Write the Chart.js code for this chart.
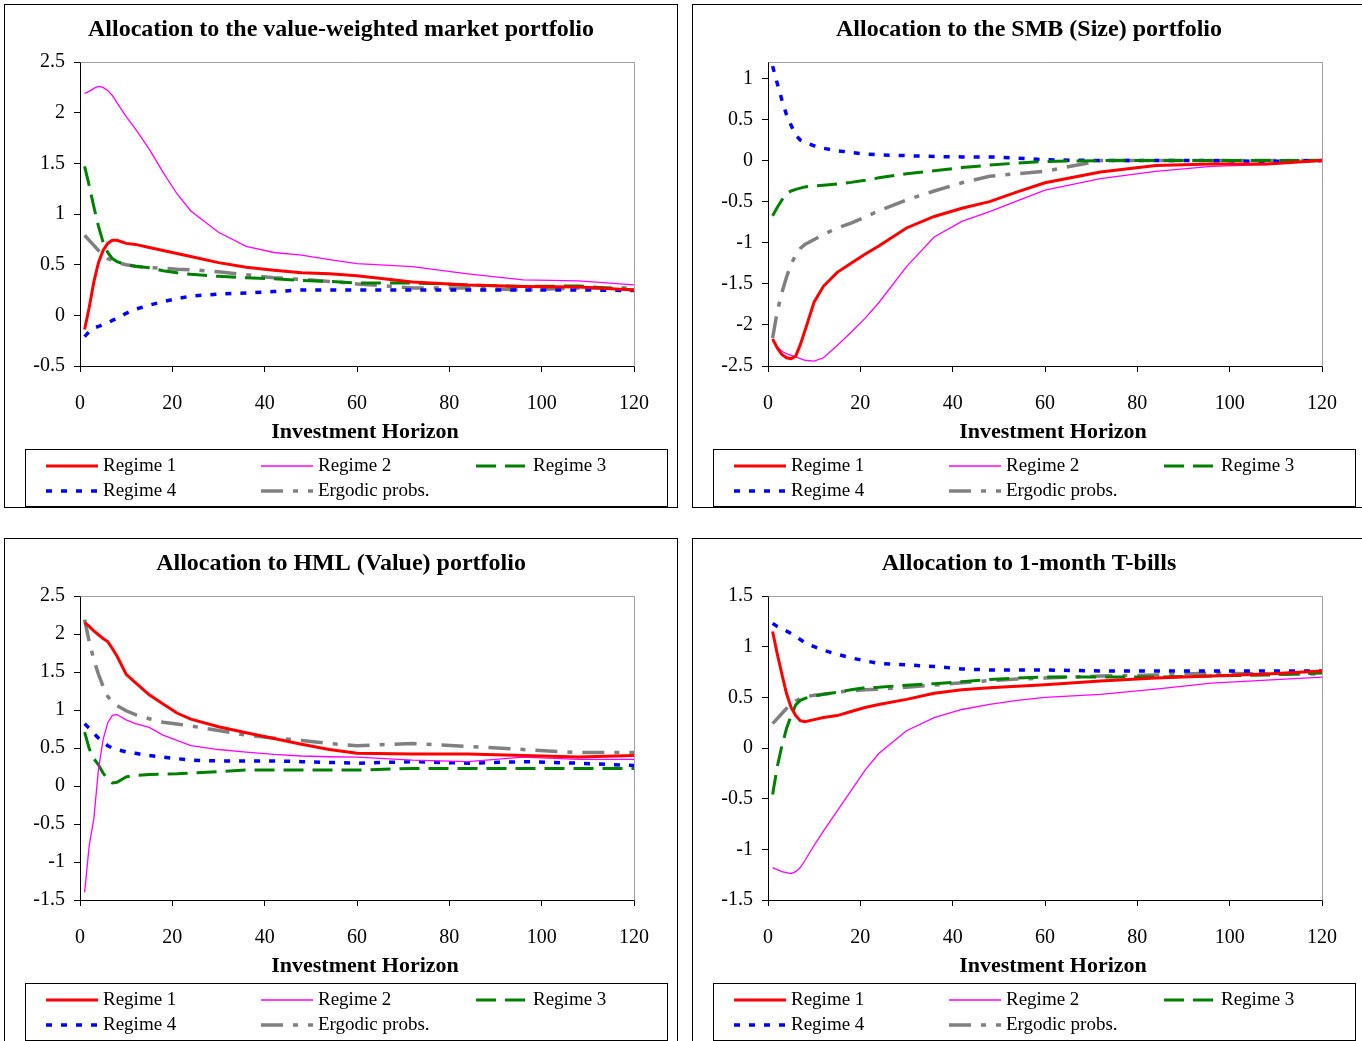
<!DOCTYPE html>
<html>
<head>
<meta charset="utf-8">
<title>Optimal allocations by regime</title>
<script src="https://cdn.jsdelivr.net/npm/chart.js@4.4.1/dist/chart.umd.min.js"></script>
<style>
    html, body { margin: 0; padding: 0; background: #fff; overflow: hidden; }
    .panel { position: absolute; width: 674px; height: 504px; box-sizing: border-box; border: 1px solid #000; background: #fff; }
    .panel canvas { display: block; }
</style>
</head>
<body>
<div class="panel" style="left:4px; top:4px;"><canvas id="mktChart" width="672" height="502"></canvas></div>
<div class="panel" style="left:692px; top:4px;"><canvas id="smbChart" width="672" height="502"></canvas></div>
<div class="panel" style="left:4px; top:538px;"><canvas id="hmlChart" width="672" height="502"></canvas></div>
<div class="panel" style="left:692px; top:538px;"><canvas id="tbillChart" width="672" height="502"></canvas></div>

<script>
// Investment horizons (months)
const horizons = [1, 2, 3, 4, 5, 6, 7, 8, 10, 12, 15, 18, 21, 24, 30, 36, 42, 48, 54, 60, 72, 84, 96, 108, 120];
const xTicks = [0, 20, 40, 60, 80, 100, 120];
const seriesNames = ['Regime 1', 'Regime 2', 'Regime 3', 'Regime 4', 'Ergodic probs.'];

// Value-weighted market portfolio
const mktTicks = [-0.5, 0, 0.5, 1, 1.5, 2, 2.5];
const mktRegime1 = [-0.14, 0.08, 0.33, 0.52, 0.64, 0.71, 0.74, 0.74, 0.71, 0.70, 0.67, 0.64, 0.61, 0.58, 0.52, 0.475, 0.445, 0.42, 0.41, 0.39, 0.33, 0.30, 0.285, 0.28, 0.25];
const mktRegime2 = [2.19, 2.21, 2.24, 2.26, 2.25, 2.22, 2.17, 2.10, 1.96, 1.84, 1.64, 1.41, 1.20, 1.03, 0.82, 0.68, 0.62, 0.595, 0.55, 0.51, 0.48, 0.41, 0.35, 0.34, 0.30];
const mktRegime3 = [1.47, 1.28, 1.07, 0.88, 0.72, 0.62, 0.56, 0.53, 0.50, 0.485, 0.47, 0.44, 0.42, 0.405, 0.385, 0.37, 0.36, 0.345, 0.335, 0.32, 0.32, 0.30, 0.285, 0.29, 0.25];
const mktRegime4 = [-0.21, -0.16, -0.125, -0.11, -0.09, -0.075, -0.05, -0.03, 0.02, 0.06, 0.10, 0.135, 0.165, 0.19, 0.21, 0.22, 0.235, 0.25, 0.25, 0.25, 0.25, 0.25, 0.25, 0.25, 0.245];
const mktErgodic = [0.79, 0.74, 0.69, 0.64, 0.60, 0.56, 0.54, 0.52, 0.50, 0.485, 0.47, 0.465, 0.455, 0.45, 0.43, 0.40, 0.37, 0.355, 0.335, 0.31, 0.27, 0.27, 0.25, 0.27, 0.27];

// SMB (size) portfolio
const smbTicks = [-2.5, -2, -1.5, -1, -0.5, 0, 0.5, 1];
const smbRegime1 = [-2.17, -2.28, -2.36, -2.40, -2.41, -2.38, -2.24, -2.07, -1.72, -1.53, -1.36, -1.25, -1.14, -1.04, -0.82, -0.68, -0.58, -0.50, -0.38, -0.27, -0.14, -0.06, -0.04, -0.04, 0];
const smbRegime2 = [-2.19, -2.27, -2.32, -2.35, -2.37, -2.39, -2.41, -2.43, -2.44, -2.40, -2.25, -2.09, -1.92, -1.73, -1.29, -0.93, -0.74, -0.62, -0.49, -0.36, -0.22, -0.13, -0.07, -0.05, 0];
const smbRegime3 = [-0.67, -0.57, -0.48, -0.40, -0.37, -0.35, -0.335, -0.32, -0.31, -0.30, -0.285, -0.265, -0.24, -0.21, -0.16, -0.125, -0.085, -0.055, -0.03, -0.01, 0, 0, 0, 0, 0];
const smbRegime4 = [1.15, 0.94, 0.74, 0.56, 0.43, 0.31, 0.25, 0.22, 0.18, 0.15, 0.12, 0.10, 0.08, 0.07, 0.06, 0.05, 0.045, 0.045, 0.03, 0.01, 0, 0, 0, -0.01, 0];
const smbErgodic = [-2.16, -1.84, -1.61, -1.42, -1.26, -1.15, -1.07, -1.02, -0.96, -0.90, -0.82, -0.76, -0.69, -0.61, -0.48, -0.37, -0.27, -0.19, -0.16, -0.13, 0, 0, 0, 0, 0];

// HML (value) portfolio
const hmlTicks = [-1.5, -1, -0.5, 0, 0.5, 1, 1.5, 2, 2.5];
const hmlRegime1 = [2.15, 2.10, 2.04, 1.99, 1.94, 1.90, 1.81, 1.71, 1.47, 1.36, 1.20, 1.08, 0.96, 0.88, 0.78, 0.70, 0.625, 0.55, 0.48, 0.43, 0.42, 0.42, 0.40, 0.38, 0.40];
const hmlRegime2 = [-1.40, -0.78, -0.43, 0.22, 0.61, 0.83, 0.93, 0.94, 0.87, 0.82, 0.77, 0.67, 0.60, 0.53, 0.48, 0.445, 0.415, 0.395, 0.385, 0.38, 0.34, 0.32, 0.38, 0.35, 0.35];
const hmlRegime3 = [0.71, 0.49, 0.36, 0.28, 0.17, 0.09, 0.04, 0.05, 0.12, 0.14, 0.15, 0.155, 0.16, 0.17, 0.19, 0.21, 0.21, 0.21, 0.21, 0.21, 0.23, 0.23, 0.23, 0.23, 0.23];
const hmlRegime4 = [0.82, 0.76, 0.69, 0.63, 0.58, 0.53, 0.50, 0.48, 0.45, 0.43, 0.40, 0.38, 0.36, 0.34, 0.33, 0.33, 0.33, 0.32, 0.31, 0.30, 0.32, 0.30, 0.32, 0.30, 0.27];
const hmlErgodic = [2.19, 1.90, 1.66, 1.47, 1.31, 1.18, 1.10, 1.06, 0.99, 0.94, 0.885, 0.84, 0.815, 0.79, 0.73, 0.67, 0.63, 0.60, 0.56, 0.53, 0.56, 0.52, 0.48, 0.44, 0.44];

// 1-month T-bills
const tbillTicks = [-1.5, -1, -0.5, 0, 0.5, 1, 1.5];
const tbillRegime1 = [1.15, 0.93, 0.73, 0.54, 0.40, 0.32, 0.27, 0.26, 0.28, 0.30, 0.32, 0.36, 0.40, 0.43, 0.48, 0.54, 0.575, 0.595, 0.61, 0.625, 0.66, 0.69, 0.71, 0.73, 0.76];
const tbillRegime2 = [-1.18, -1.20, -1.22, -1.23, -1.24, -1.22, -1.18, -1.11, -0.96, -0.82, -0.62, -0.42, -0.22, -0.055, 0.17, 0.30, 0.38, 0.43, 0.47, 0.50, 0.53, 0.58, 0.64, 0.67, 0.70];
const tbillRegime3 = [-0.46, -0.185, 0.02, 0.19, 0.32, 0.425, 0.47, 0.49, 0.51, 0.53, 0.55, 0.575, 0.595, 0.60, 0.62, 0.635, 0.655, 0.675, 0.69, 0.70, 0.70, 0.70, 0.71, 0.72, 0.74];
const tbillRegime4 = [1.23, 1.20, 1.18, 1.155, 1.13, 1.10, 1.07, 1.04, 1.00, 0.965, 0.925, 0.89, 0.86, 0.835, 0.82, 0.805, 0.78, 0.77, 0.77, 0.77, 0.76, 0.76, 0.76, 0.76, 0.76];
const tbillErgodic = [0.24, 0.29, 0.34, 0.39, 0.43, 0.465, 0.49, 0.505, 0.52, 0.53, 0.55, 0.565, 0.575, 0.58, 0.60, 0.62, 0.645, 0.665, 0.68, 0.69, 0.71, 0.72, 0.74, 0.73, 0.73];

const FONT = '"Liberation Serif", "Times New Roman", serif';
Chart.defaults.font.family = FONT;
Chart.defaults.color = '#000';

const lineStyles = [
    { borderColor: '#FF0000', borderWidth: 3 },
    { borderColor: '#FF00FF', borderWidth: 1.3 },
    { borderColor: '#008000', borderWidth: 3, borderDash: [20, 9] },
    { borderColor: '#0000FF', borderWidth: 3.5, borderDash: [6, 9] },
    { borderColor: '#808080', borderWidth: 3.5, borderDash: [22, 10, 5, 10] }
];

// gray frame on the top and right of the plot area
const plotFrame = {
    id: 'plotFrame',
    beforeDatasetsDraw(chart) {
        const { ctx, chartArea: a } = chart;
        ctx.save();
        ctx.strokeStyle = '#a0a0a0';
        ctx.lineWidth = 1;
        ctx.beginPath();
        ctx.moveTo(Math.round(a.left) + 0.5, Math.round(a.top) + 0.5);
        ctx.lineTo(Math.round(a.right) + 0.5, Math.round(a.top) + 0.5);
        ctx.lineTo(Math.round(a.right) + 0.5, Math.round(a.bottom) + 0.5);
        ctx.stroke();
        ctx.restore();
    }
};

// chart title centred on the whole panel, axis title as Excel places it
const panelTitles = {
    id: 'panelTitles',
    afterDraw(chart, args, opts) {
        const ctx = chart.ctx;
        ctx.save();
        ctx.fillStyle = '#000';
        ctx.textAlign = 'center';
        ctx.textBaseline = 'middle';
        ctx.font = 'bold 24px ' + FONT;
        ctx.fillText(opts.text, chart.width / 2, 25);
        ctx.font = 'bold 22px ' + FONT;
        ctx.fillText('Investment Horizon', 360, 427);
        ctx.restore();
    }
};

// boxed legend, three columns
const legendCols = [41, 256, 471];
const legendRows = [461, 486];
const boxedLegend = {
    id: 'boxedLegend',
    afterDraw(chart) {
        const ctx = chart.ctx;
        ctx.save();
        ctx.strokeStyle = '#000';
        ctx.lineWidth = 1;
        ctx.strokeRect(20.5, 444.5, 642, 57);
        chart.data.datasets.forEach((ds, i) => {
            const x = legendCols[i % 3];
            const y = legendRows[Math.floor(i / 3)];
            ctx.beginPath();
            ctx.setLineDash(ds.borderDash || []);
            ctx.strokeStyle = ds.borderColor;
            ctx.lineWidth = ds.borderWidth;
            ctx.moveTo(x, y);
            ctx.lineTo(x + 52, y);
            ctx.stroke();
            ctx.setLineDash([]);
            ctx.fillStyle = '#000';
            ctx.font = '19px ' + FONT;
            ctx.textBaseline = 'middle';
            ctx.textAlign = 'left';
            ctx.fillText(ds.label, x + 57, y);
        });
        ctx.restore();
    }
};

function makePanel(canvasId, title, yTicks, yMax, series) {
    const datasets = series.map((values, i) => Object.assign({
        label: seriesNames[i],
        data: horizons.map((h, k) => ({ x: h, y: values[k] })),
        pointRadius: 0,
        tension: 0,
        fill: false
    }, lineStyles[i]));

    return new Chart(document.getElementById(canvasId), {
        type: 'line',
        data: { datasets },
        plugins: [plotFrame, panelTitles, boxedLegend],
        options: {
            responsive: false,
            animation: false,
            events: [],
            layout: { padding: { left: 0, right: 43, top: 57, bottom: 58 } },
            plugins: {
                legend: { display: false },
                tooltip: { enabled: false },
                title: { display: false },
                panelTitles: { text: title }
            },
            scales: {
                x: {
                    type: 'linear',
                    min: 0,
                    max: 120,
                    afterBuildTicks: s => { s.ticks = xTicks.map(v => ({ value: v })); },
                    afterFit: s => { s.height = 83; },
                    grid: { drawOnChartArea: false, drawTicks: true, tickLength: 6, color: '#000' },
                    border: { display: true, color: '#000', width: 1 },
                    ticks: { font: { size: 20 }, padding: 20, maxRotation: 0, callback: v => String(v) }
                },
                y: {
                    type: 'linear',
                    min: yTicks[0],
                    max: yMax,
                    afterBuildTicks: s => { s.ticks = yTicks.map(v => ({ value: v })); },
                    afterFit: s => { s.width = 75; },
                    grid: { drawOnChartArea: false, drawTicks: true, tickLength: 6, color: '#000' },
                    border: { display: true, color: '#000', width: 1 },
                    ticks: { font: { size: 20 }, padding: 9, callback: v => String(v) }
                }
            }
        }
    });
}

makePanel('mktChart', 'Allocation to the value-weighted market portfolio', mktTicks, 2.5,
    [mktRegime1, mktRegime2, mktRegime3, mktRegime4, mktErgodic]);
makePanel('smbChart', 'Allocation to the SMB (Size) portfolio', smbTicks, 1.2,
    [smbRegime1, smbRegime2, smbRegime3, smbRegime4, smbErgodic]);
makePanel('hmlChart', 'Allocation to HML (Value) portfolio', hmlTicks, 2.5,
    [hmlRegime1, hmlRegime2, hmlRegime3, hmlRegime4, hmlErgodic]);
makePanel('tbillChart', 'Allocation to 1-month T-bills', tbillTicks, 1.5,
    [tbillRegime1, tbillRegime2, tbillRegime3, tbillRegime4, tbillErgodic]);
</script>
</body>
</html>
